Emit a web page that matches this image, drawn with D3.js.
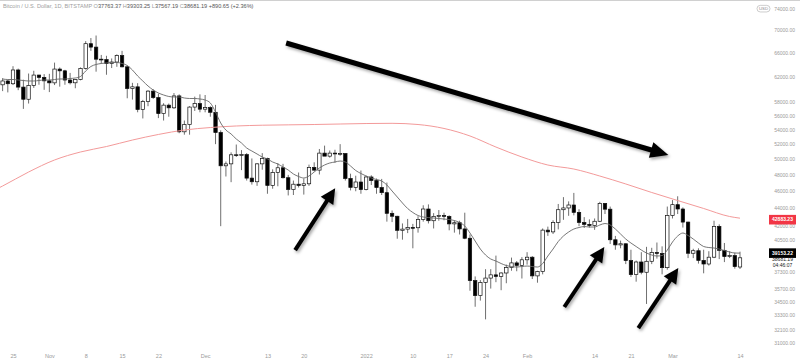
<!DOCTYPE html>
<html><head><meta charset="utf-8">
<script src="https://cdn.jsdelivr.net/npm/d3@7/dist/d3.min.js"></script>
<style>html,body{margin:0;padding:0;background:#fff}svg{display:block}</style>
</head><body>
<svg id="chart" width="800" height="364"></svg>
<script>
// ---------------- DATA ----------------
const startDate = "2021-10-23";           // first daily candle
const xDomain = ["2021-10-25", "2022-03-14"];

const open = [
60690,61300,60860,63080,60330,58450,60590,62250,61880,61320,
61000,63230,62940,61450,61010,61530,63320,67550,66950,64880,
64800,64150,64400,65500,63600,60100,60370,56900,58100,59700,
58700,56300,57560,57160,58960,53700,54720,57270,57800,56960,
57200,56500,53600,49150,49400,50580,50500,50600,47600,47150,
49400,50100,46700,48300,48900,47650,46200,46850,46700,46900,
48950,48600,50800,50400,50800,50700,50750,47550,46470,47120,
46200,47740,47300,46450,45830,43430,43100,41550,41680,41860,
41830,42740,43920,42600,43090,43180,43090,42250,42380,41700,
40700,36450,35050,36280,36690,37000,36850,37180,37710,38170,
37920,38480,38740,36900,37320,41570,41380,42410,43840,44040,
44380,43540,42400,42200,42070,42540,44570,43900,40540,40000,
40120,38400,37020,38260,37250,38330,39220,39120,37700,43190,
44420,43920,42450,39140,39400,38420,38060,38740,41980,39440,
38800,38900,37763.37];
const high = [
61750,61450,63700,63300,61500,62500,62950,62300,62400,62450,
64300,63500,63100,62600,61600,63500,68000,68550,69000,65600,
65450,65000,65700,66300,63800,61000,60950,58350,59850,60000,
59300,57850,57800,59400,59200,55300,57400,58850,59200,59100,
57400,57600,53900,49700,50900,51950,51200,50800,50100,49500,
50800,50200,48700,49500,49400,48000,47300,48300,47550,49300,
49600,51350,51800,51150,51250,52000,50750,48150,47900,48550,
47900,47950,47550,47500,47050,43750,43150,42300,42800,42250,
43100,44350,44450,43450,43800,43500,43200,42650,42600,43500,
41100,36850,36500,37550,37550,38900,37250,38000,38700,38350,
38750,39250,38850,37400,41750,41950,42650,44500,45300,44800,
45800,43900,43000,42750,42850,44750,44600,44200,40950,40450,
40150,39500,38400,39250,39800,39700,40250,39850,44200,44950,
45400,44100,42500,39600,39650,39500,39350,42600,42200,40200,
39350,39200,39303.25];
const low = [
59700,59500,60650,59850,57000,57800,60200,60700,59900,59550,
60650,60400,60700,60750,60150,61400,63150,66300,62800,64100,
62300,63400,63600,63500,58600,58400,56500,55600,57400,58500,
55650,55300,55850,57000,53500,53300,53300,56700,56500,56500,
55850,52000,42000,47800,47100,50300,48600,47300,46800,46650,
48650,45700,46300,46600,47550,45500,45550,46450,45600,46650,
48450,48050,50450,50200,49550,50450,47300,46100,46000,45700,
46100,46750,45700,45550,42500,42450,40650,40550,41250,39650,
41300,42500,42300,41750,42600,42650,41550,41300,41100,40600,
35500,34050,34600,32950,35700,36300,35550,36200,37400,37350,
36650,38000,36600,36250,37050,40950,41150,41650,42700,43150,
43200,42000,41800,41850,41600,42450,43350,40100,39500,39650,
38050,36800,36350,37050,34300,38050,38600,37050,37500,42850,
43350,41850,38650,38650,38100,37150,37900,38650,38550,38250,
38650,37600,37567.19];
const close = [
61300,60860,63080,60330,58450,60590,62250,61880,61320,61000,
63230,62940,61450,61010,61530,63320,67550,66950,64880,64800,
64150,64400,65500,63600,60100,60370,56900,58100,59700,58700,
56300,57560,57160,58960,53700,54720,57270,57800,56960,57200,
56500,53600,49150,49400,50580,50500,50600,47600,47150,49400,
50100,46700,48300,48900,47650,46200,46850,46700,46900,48950,
48600,50800,50400,50800,50700,50750,47550,46470,47120,46200,
47740,47300,46450,45830,43430,43100,41550,41680,41860,41830,
42740,43920,42600,43090,43180,43090,42250,42380,41700,40700,
36450,35050,36280,36690,37000,36850,37180,37710,38170,37920,
38480,38740,36900,37320,41570,41380,42410,43840,44040,44380,
43540,42400,42200,42070,42540,44570,43900,40540,40000,40120,
38400,37020,38260,37250,38330,39220,39120,37700,43190,44420,
43920,42450,39140,39400,38420,38060,38740,41980,39440,38800,
38900,37800,38681.19];

// grey moving average, one value per candle
const maGray = [
61615,61534,61534,61453,61374,61295,61295,61374,61453,61453,
61534,61615,61615,61696,61777,62021,62913,63657,63990,64157,
64240,64323,64323,64157,63824,63075,62102,61295,60505,59873,
59411,59103,58873,58796,58796,58642,58565,58565,58488,58334,
57884,56542,54946,53949,53394,52701,52157,51481,51079,50684,
50289,50026,49638,49381,48997,48612,48112,47800,47612,47862,
48362,48868,49253,49509,49638,49766,49638,49125,48550,48175,
47862,47612,47425,47240,46753,46025,45314,44611,43975,43521,
43183,43014,42958,42901,42845,42789,42732,42621,42402,42018,
41258,40406,39573,38962,38556,38355,38108,37910,37811,37762,
37811,37861,37811,37762,38108,38860,39573,40354,40938,41365,
41689,41853,41963,41908,41908,42128,42292,42128,41689,41151,
40617,40198,39833,39469,39165,38962,38860,38911,39469,40302,
40938,41258,40991,40617,40198,39833,39729,39677,39573,39418,
39266,39165,39153.22];

// red (long) moving average, sampled every 5 days
const redDates = ["2021-10-21","2021-10-23","2021-10-28","2021-11-02","2021-11-07","2021-11-12","2021-11-17",
  "2021-11-22","2021-11-27","2021-12-02","2021-12-07","2021-12-12","2021-12-17","2021-12-22","2021-12-27",
  "2022-01-01","2022-01-06","2022-01-11","2022-01-16","2022-01-21","2022-01-26","2022-01-31","2022-02-05",
  "2022-02-10","2022-02-15","2022-02-20","2022-02-25","2022-03-02","2022-03-07","2022-03-12","2022-03-14"];
const redValues = [46000,46630,48360,49900,50950,51680,52560,53330,53950,54300,54520,54630,54680,54730,54800,
  54870,54900,54730,54170,53120,51610,50290,49250,48740,47860,46880,45850,44900,43980,43070,42883.23];

const yTicks = [74000,70000,66000,62000,58000,56000,54000,52000,50000,48000,46000,44000,42000,40500,37300,35700,34500,33300,32100,31000];
const xTickDates = ["2021-10-25","2021-11-01","2021-11-08","2021-11-15","2021-11-22","2021-12-01","2021-12-13","2021-12-20",
  "2022-01-01","2022-01-10","2022-01-17","2022-01-24","2022-02-01","2022-02-14","2022-02-21","2022-03-01","2022-03-14"];
const xTickLabels = ["25","Nov","8","15","22","Dec","13","20","2022","10","17","24","Feb","14","21","Mar","14"];

// annotation arrows: [tail date, tail price] -> [tip date, tip price]
const arrowTail = [["2021-12-16T14:24",67670],["2021-12-18T08:00",39469],["2022-02-08T04:00",34028],["2022-02-22T10:00",32216]];
const arrowTip  = [["2022-02-28T05:00",50549],["2021-12-26T01:00",46353],["2022-02-15T21:00",39785],["2022-03-02T03:00",37666]];
const arrowSize = ["big","small","small","small"];

const headerTitle = "Bitcoin / U.S. Dollar, 1D, BITSTAMP";
const headerKeys = ["O","H","L","C"];
const headerVals = ["37763.37","39303.25","37567.19","38681.19"];
const headerChange = "+890.65 (+2.36%)";
const currency = "USD";
const lastPrice = 38681.19, countdown = "04:46:07";
const maGrayLast = 39153.22, maRedLast = 42883.23;

// ---------------- DRAW ----------------
const svg = d3.select("#chart");
const font = "'Liberation Sans',Arial,sans-serif";
const parse = d3.utcParse("%Y-%m-%d");
const t0 = parse(startDate);
const dates = d3.utcDay.range(t0, d3.utcDay.offset(t0, open.length));
const x = d3.scaleUtc().domain(xDomain.map(parse)).range([13, 740]);
const y = d3.scaleLog().domain([70000, 31000]).range([30, 342.8]);

svg.append("rect").attr("width",800).attr("height",364).attr("fill","#fff");
svg.append("line").attr("x1",0).attr("x2",800).attr("y1",0.5).attr("y2",0.5).attr("stroke","#d0d0d0");

const defs = svg.append("defs");
defs.append("clipPath").attr("id","plotclip").append("rect").attr("x",0).attr("y",1).attr("width",752).attr("height",350);
const flt = defs.append("filter").attr("id","shadow").attr("x","-30%").attr("y","-30%").attr("width","160%").attr("height","160%");
flt.append("feDropShadow").attr("dx",1.5).attr("dy",2).attr("stdDeviation",1.6).attr("flood-color","#000").attr("flood-opacity",0.35);

const plot = svg.append("g").attr("clip-path","url(#plotclip)");

// candles
const bw = 3.4;
const candles = dates.map((d,i)=>({d,o:open[i],h:high[i],l:low[i],c:close[i]}));
const cg = plot.append("g").selectAll("g").data(candles).join("g");
cg.append("line")
  .attr("x1",d=>x(d.d)).attr("x2",d=>x(d.d))
  .attr("y1",d=>y(d.h)).attr("y2",d=>y(d.l))
  .attr("stroke","#4a4a4a").attr("stroke-width",0.8);
cg.append("rect")
  .attr("x",d=>x(d.d)-bw/2).attr("width",bw)
  .attr("y",d=>y(Math.max(d.o,d.c)))
  .attr("height",d=>Math.max(0.8,Math.abs(y(d.o)-y(d.c))))
  .attr("fill",d=>d.c>=d.o?"#fff":"#000")
  .attr("stroke","#111").attr("stroke-width",0.7);

// moving averages
plot.append("path")
  .datum(redValues.map((v,i)=>[parse(redDates[i]),v]))
  .attr("d",d3.line().x(d=>x(d[0])).y(d=>y(d[1])).curve(d3.curveMonotoneX))
  .attr("fill","none").attr("stroke","#f39a9a").attr("stroke-width",1);
plot.append("path")
  .datum(maGray.map((v,i)=>[dates[i],v]))
  .attr("d",d3.line().x(d=>x(d[0])).y(d=>y(d[1])).curve(d3.curveMonotoneX))
  .attr("fill","none").attr("stroke","#666").attr("stroke-width",0.9);

// arrows
const ag = svg.append("g").attr("filter","url(#shadow)");
arrowTail.forEach((t,i)=>{
  const x1=x(d3.isoParse(t[0]+":00Z")), y1=y(t[1]);
  const x2=x(d3.isoParse(arrowTip[i][0]+":00Z")), y2=y(arrowTip[i][1]);
  const big = arrowSize[i]==="big";
  const L = big?18:15, w = big?8:7.5, sw = big?5:4;
  const dx=x2-x1, dy=y2-y1, len=Math.hypot(dx,dy), ux=dx/len, uy=dy/len;
  const bx=x2-ux*L, by=y2-uy*L, nx=-uy, ny=ux;
  ag.append("line").attr("x1",x1).attr("y1",y1).attr("x2",bx+ux*2).attr("y2",by+uy*2)
    .attr("stroke","#000").attr("stroke-width",sw).attr("stroke-linecap","butt");
  ag.append("path").attr("d",`M${x2},${y2}L${bx+nx*w},${by+ny*w}L${bx-nx*w},${by-ny*w}Z`).attr("fill","#000");
});

// x axis
const xa = svg.append("g").attr("transform","translate(0,352)")
  .call(d3.axisBottom(x).tickValues(xTickDates.map(parse)).tickFormat((d,i)=>xTickLabels[i]).tickSize(0).tickPadding(2));
xa.select(".domain").remove();
xa.selectAll("text").attr("fill","#9a9a9a").style("font-size","5.5px").style("font-family",font);

// y axis (right)
const ya = svg.append("g").attr("transform","translate(770,0)")
  .call(d3.axisRight(y).tickValues(yTicks).tickFormat(d=>d.toFixed(2)).tickSize(0).tickPadding(0));
ya.select(".domain").remove();
ya.selectAll("text").attr("x",25).attr("text-anchor","end").attr("fill","#9a9a9a")
  .style("font-size","5px").style("font-family",font);

// currency badge near the top of the price scale
const cy0 = y(74000);
svg.append("rect").attr("x",757).attr("y",cy0-3.3).attr("width",13).attr("height",6.6).attr("rx",3.3)
  .attr("fill","#fff").attr("stroke","#9a9a9a").attr("stroke-width",0.5);
svg.append("text").attr("x",763.5).attr("y",cy0).attr("dy","0.35em").attr("text-anchor","middle")
  .attr("fill","#8a8a8a").style("font-size","4.3px").style("font-family",font).text(currency);

// price labels
function badge(val, bg, fg, dyOff){
  const cy = y(val)+dyOff;
  svg.append("rect").attr("x",769).attr("y",cy-4.8).attr("width",27).attr("height",9.6).attr("fill",bg);
  svg.append("text").attr("x",782.5).attr("y",cy).attr("dy","0.35em").attr("text-anchor","middle")
    .attr("fill",fg).style("font-size","5px").style("font-family",font).style("font-weight","bold").text(val.toFixed(2));
}
badge(maRedLast,"#f23645","#fff",1.5);
badge(maGrayLast,"#000","#fff",0);
const lp = y(lastPrice);
svg.append("text").attr("x",782.5).attr("y",lp+1.3).attr("dy","0.35em").attr("text-anchor","middle")
  .attr("fill","#222").style("font-size","5px").style("font-family",font).text(lastPrice.toFixed(2));
svg.append("text").attr("x",782.5).attr("y",lp+7.2).attr("dy","0.35em").attr("text-anchor","middle")
  .attr("fill","#222").style("font-size","5px").style("font-family",font).text(countdown);

// header
const ht = svg.append("text").attr("x",3).attr("y",8).style("font-size","5.6px").style("font-family",font);
ht.append("tspan").attr("fill","#a0a0a0").text(headerTitle+"  ");
headerKeys.forEach((k,i)=>{
  ht.append("tspan").attr("fill","#a0a0a0").text(k);
  ht.append("tspan").attr("fill","#555").text(headerVals[i]+"  ");
});
ht.append("tspan").attr("fill","#555").text(headerChange);
</script>
</body></html>
